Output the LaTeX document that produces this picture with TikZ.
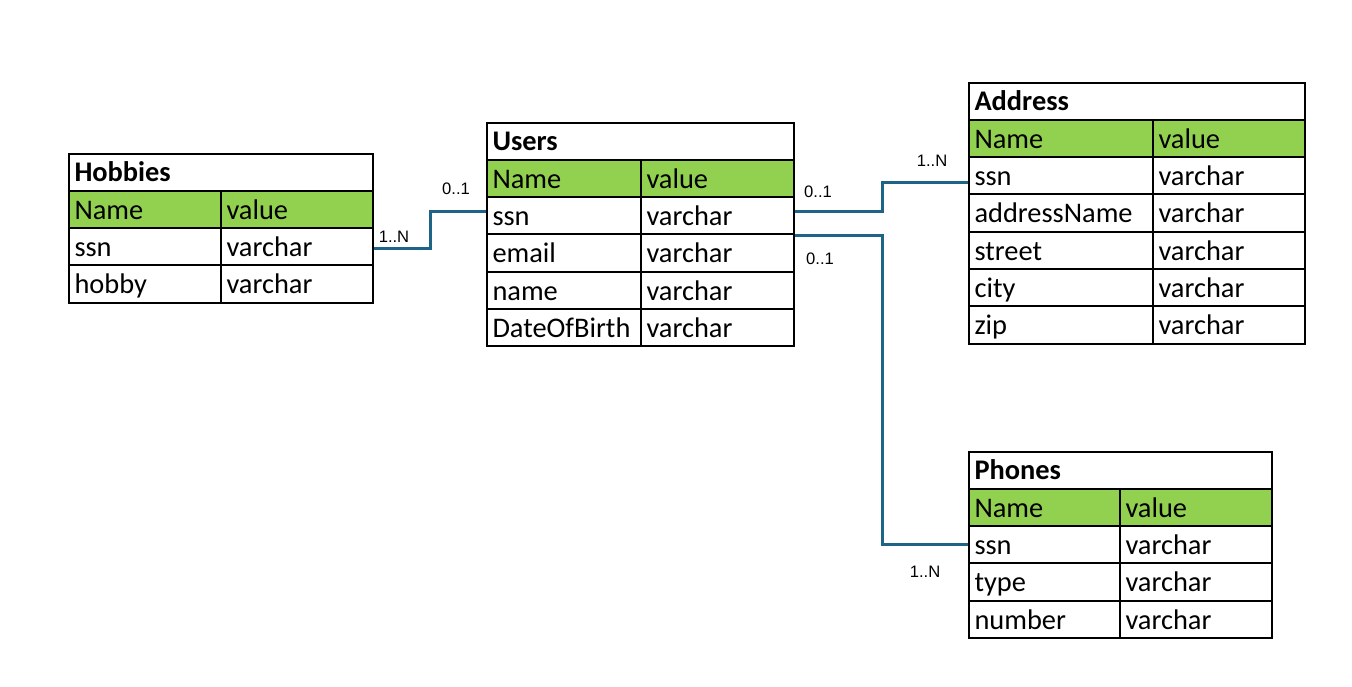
\documentclass[tikz,border=0pt]{standalone}
\usepackage{fontspec}
\setmainfont{Carlito}
\newfontfamily\lblfont{Liberation Sans}
\definecolor{hdrgreen}{HTML}{92D050}
\definecolor{conncol}{RGB}{30,100,135}
\tikzset{
  cell/.style={draw=black, line width=1pt, anchor=north west, inner xsep=3pt, inner ysep=0pt,
    minimum height=18.65pt, text height=11.6pt, text depth=1.8pt, align=left,
    font=\fontsize{14.2}{16}\selectfont},
  hdr/.style={cell, fill=hdrgreen},
  conn/.style={draw=conncol, line width=1.5pt},
  card/.style={font=\lblfont\fontsize{8.3}{9}\selectfont, inner sep=0pt},
}
\newcommand\ertable[7]{%
  \pgfmathsetmacro\wA{#4*0.5-6}%
  \pgfmathsetmacro\wB{#5*0.5-6}%
  \pgfmathsetmacro\wT{(#4+#5)*0.5-6}%
  \node[cell, text width=\wT pt] (#1-title) at (#2,#3) {\bfseries #6};
  \node[hdr, text width=\wA pt] (#1-h1) at (#2,#3+37.3) {Name};
  \node[hdr, text width=\wB pt] (#1-h2) at (#2+#4,#3+37.3) {value};
  \foreach \a/\b [count=\i] in {#7} {
    \node[cell, text width=\wA pt] (#1-\i a) at (#2,#3+37.3+37.3*\i) {\a};
    \node[cell, text width=\wB pt] (#1-\i b) at (#2+#4,#3+37.3+37.3*\i) {\b};
  }%
}
\begin{document}
\begin{tikzpicture}[x=0.5pt,y=-0.5pt]
  \fill[white] (0,0) rectangle (1352,686);
  \useasboundingbox (0,0) rectangle (1352,686);

  \ertable{hob}{67.5}{152.5}{152}{152}{Hobbies}{ssn/varchar, hobby/varchar}
  \ertable{users}{485.5}{121.5}{154}{153}{Users}{ssn/varchar, email/varchar, name/varchar, DateOfBirth/varchar}
  \ertable{addr}{967.5}{81.5}{184}{152}{Address}{ssn/varchar, addressName/varchar, street/varchar, city/varchar, zip/varchar}
  \ertable{ph}{967.5}{450.5}{151}{152}{Phones}{ssn/varchar, type/varchar, number/varchar}

  \draw[conn] ([yshift=-0.7pt]hob-1b.east) -- ++(57,0) |- ([yshift=2.3pt]users-1a.west);
  \draw[conn] ([yshift=2.3pt]users-1b.east) -- ++(88,0) |- ([yshift=-3.3pt]addr-1a.west);
  \draw[conn] (users-1b.south east) -- ++(88,0) |- (ph-1a.west);

  \node[card] (c1) at (394,237) {1..N};
  \node[card] (c2) at (456,189) {0..1};
  \node[card] (c3) at (818,192) {0..1};
  \node[card] (c4) at (932,161) {1..N};
  \node[card] (c5) at (820,259) {0..1};
  \node[card] (c6) at (925,572) {1..N};
\end{tikzpicture}
\end{document}
